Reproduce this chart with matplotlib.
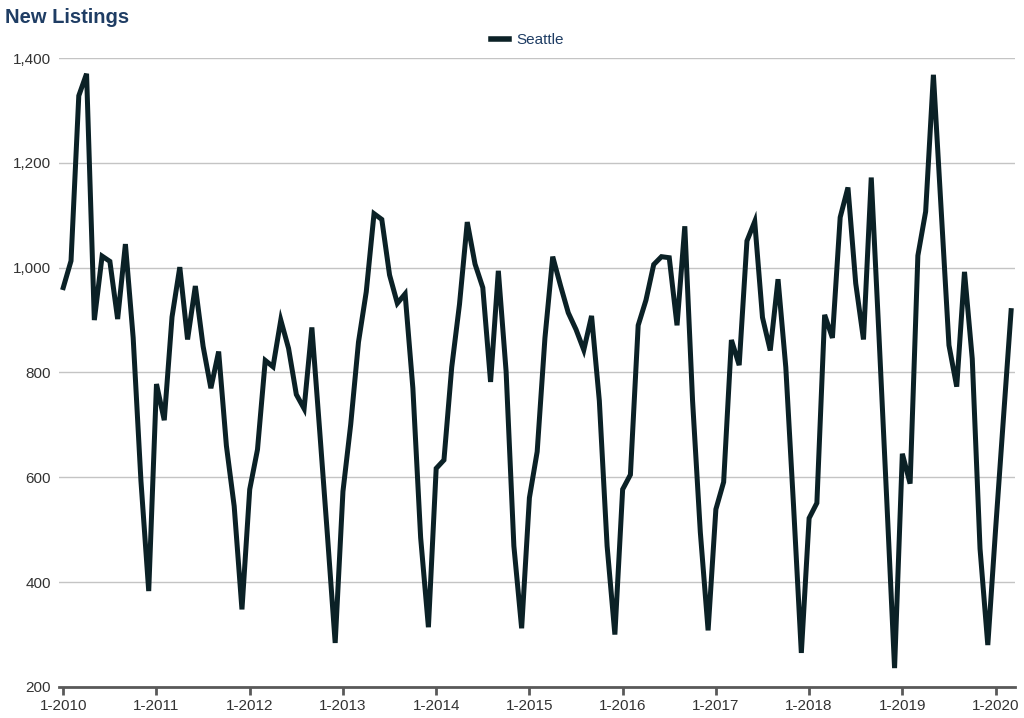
import numpy as np
import matplotlib
matplotlib.use("Agg")
import matplotlib.pyplot as plt

plt.rcParams['font.family'] = ['Liberation Sans', 'DejaVu Sans']

# monthly new listings, Seattle, 1-2010 .. 3-2020
seattle = [
    962, 1013, 1328, 1370, 900, 1022, 1012, 902, 1045, 866, 593, 383,   # 2010
    778, 709, 906, 1001, 863, 965, 850, 770, 840, 660, 545, 348,       # 2011
    577, 653, 823, 811, 900, 846, 758, 731, 886, 690, 490, 284,        # 2012
    573, 701, 858, 954, 1103, 1092, 986, 932, 950, 770, 485, 314,      # 2013
    617, 633, 810, 930, 1087, 1007, 962, 782, 994, 802, 469, 312,      # 2014
    561, 649, 866, 1021, 966, 914, 882, 843, 908, 746, 469, 300,       # 2015
    577, 605, 890, 938, 1006, 1021, 1019, 890, 1079, 746, 495, 308,    # 2016
    539, 591, 862, 814, 1051, 1088, 905, 842, 978, 810, 545, 265,      # 2017
    522, 551, 910, 866, 1096, 1153, 970, 863, 1172, 868, 555, 236,     # 2018
    645, 588, 1023, 1107, 1368, 1110, 852, 773, 992, 826, 464, 280,    # 2019
    500, 710, 918,                                                     # 2020
]
years = list(range(2010, 2021))
year_labels = ["1-%d" % y for y in years]
y_ticks = [200, 400, 600, 800, 1000, 1200, 1400]

fig = plt.figure(figsize=(10.24, 7.18), dpi=100)
ax = fig.add_axes([0.0576, 0.0432, 0.9336, 0.8760])

months = np.arange(len(seattle))
ax.plot(months, seattle, color="#0b2126", lw=3.6, solid_joinstyle="miter",
        label="Seattle")

ax.set_xlim(-0.55, 122.5)
ax.set_ylim(200, 1400)
ax.set_yticks(y_ticks)
ax.set_yticklabels(["{:,}".format(v) for v in y_ticks])
ax.set_xticks([12 * i for i in range(len(years))])
ax.set_xticklabels(year_labels)

ax.grid(axis="y", color="#c4c4c4", lw=1)
ax.set_axisbelow(True)
for s in ["left", "right", "top"]:
    ax.spines[s].set_visible(False)
ax.spines["bottom"].set_color("#595959")
ax.spines["bottom"].set_linewidth(2)
ax.tick_params(axis="y", length=0, labelsize=11, labelcolor="#333333", pad=6)
ax.tick_params(axis="x", length=6, width=2, color="#595959", labelsize=11,
               labelcolor="#333333", pad=3)

fig.text(0.005, 0.975, "New Listings", fontsize=14.5, fontweight="bold",
         color="#1f3d64", va="center", ha="left")
leg = fig.legend(loc="center", bbox_to_anchor=(0.515, 0.944), frameon=False,
                 fontsize=11, handlelength=1.2, handletextpad=0.5)
for t in leg.get_texts():
    t.set_color("#1f3d64")
for h in leg.get_lines():
    h.set_linewidth(4)

fig.savefig("out.png", dpi=100)
